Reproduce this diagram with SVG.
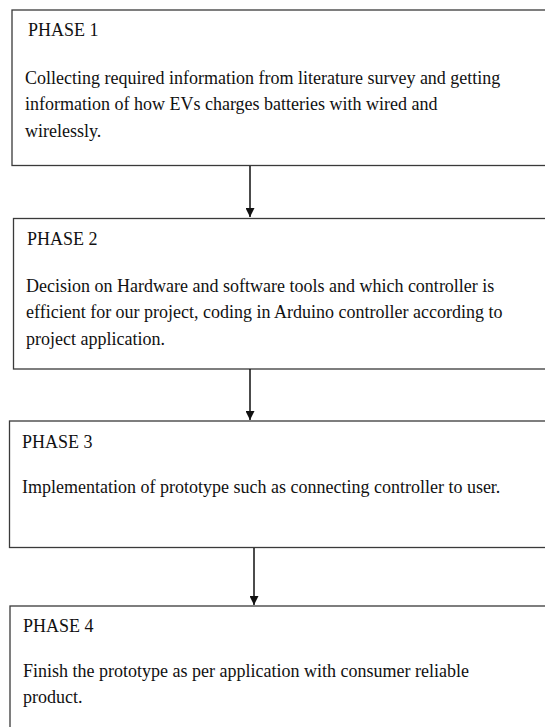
<svg xmlns="http://www.w3.org/2000/svg" width="545" height="727" viewBox="0 0 545 727">
<defs>
<style>
.box{fill:#fff;stroke:#3a3a3a;stroke-width:1.3}
.t{font-family:"Liberation Serif","Times New Roman",serif;font-size:18px;fill:#111}
.c{stroke:#111;stroke-width:1.5;fill:none}
</style>
<marker id="ah" viewBox="0 0 10 10" refX="10" refY="5" markerWidth="9" markerHeight="9" markerUnits="userSpaceOnUse" orient="auto"><path d="M0,0 L10,5 L0,10 z" fill="#111"/></marker>
</defs>
<rect width="545" height="727" fill="#fff"/>
<g id="phase1">
<rect class="box" x="12" y="10" width="560" height="155.5"/>
<text class="t" x="28" y="36">PHASE 1</text>
<text class="t" x="25" y="84">Collecting required information from literature survey and getting</text>
<text class="t" x="25" y="110">information of how EVs charges batteries with wired and</text>
<text class="t" x="25" y="137">wirelessly.</text>
</g>
<g id="phase2">
<rect class="box" x="13.5" y="218.5" width="560" height="150.5"/>
<text class="t" x="27" y="245">PHASE 2</text>
<text class="t" x="26" y="292">Decision on Hardware and software tools and which controller is</text>
<text class="t" x="26" y="318">efficient for our project, coding in Arduino controller according to</text>
<text class="t" x="26" y="345">project application.</text>
</g>
<g id="phase3">
<rect class="box" x="9.5" y="421" width="560" height="126.5"/>
<text class="t" x="22" y="448">PHASE 3</text>
<text class="t" x="22" y="493">Implementation of prototype such as connecting controller to user.</text>
</g>
<g id="phase4">
<rect class="box" x="10" y="606" width="560" height="140"/>
<text class="t" x="23" y="632">PHASE 4</text>
<text class="t" x="23" y="677">Finish the prototype as per application with consumer reliable</text>
<text class="t" x="23" y="703">product.</text>
</g>
<g id="connectors">
<line class="c" x1="250" y1="166" x2="250" y2="217" marker-end="url(#ah)"/>
<line class="c" x1="250" y1="369" x2="250" y2="420" marker-end="url(#ah)"/>
<line class="c" x1="254" y1="548" x2="254" y2="605" marker-end="url(#ah)"/>
</g>
</svg>
